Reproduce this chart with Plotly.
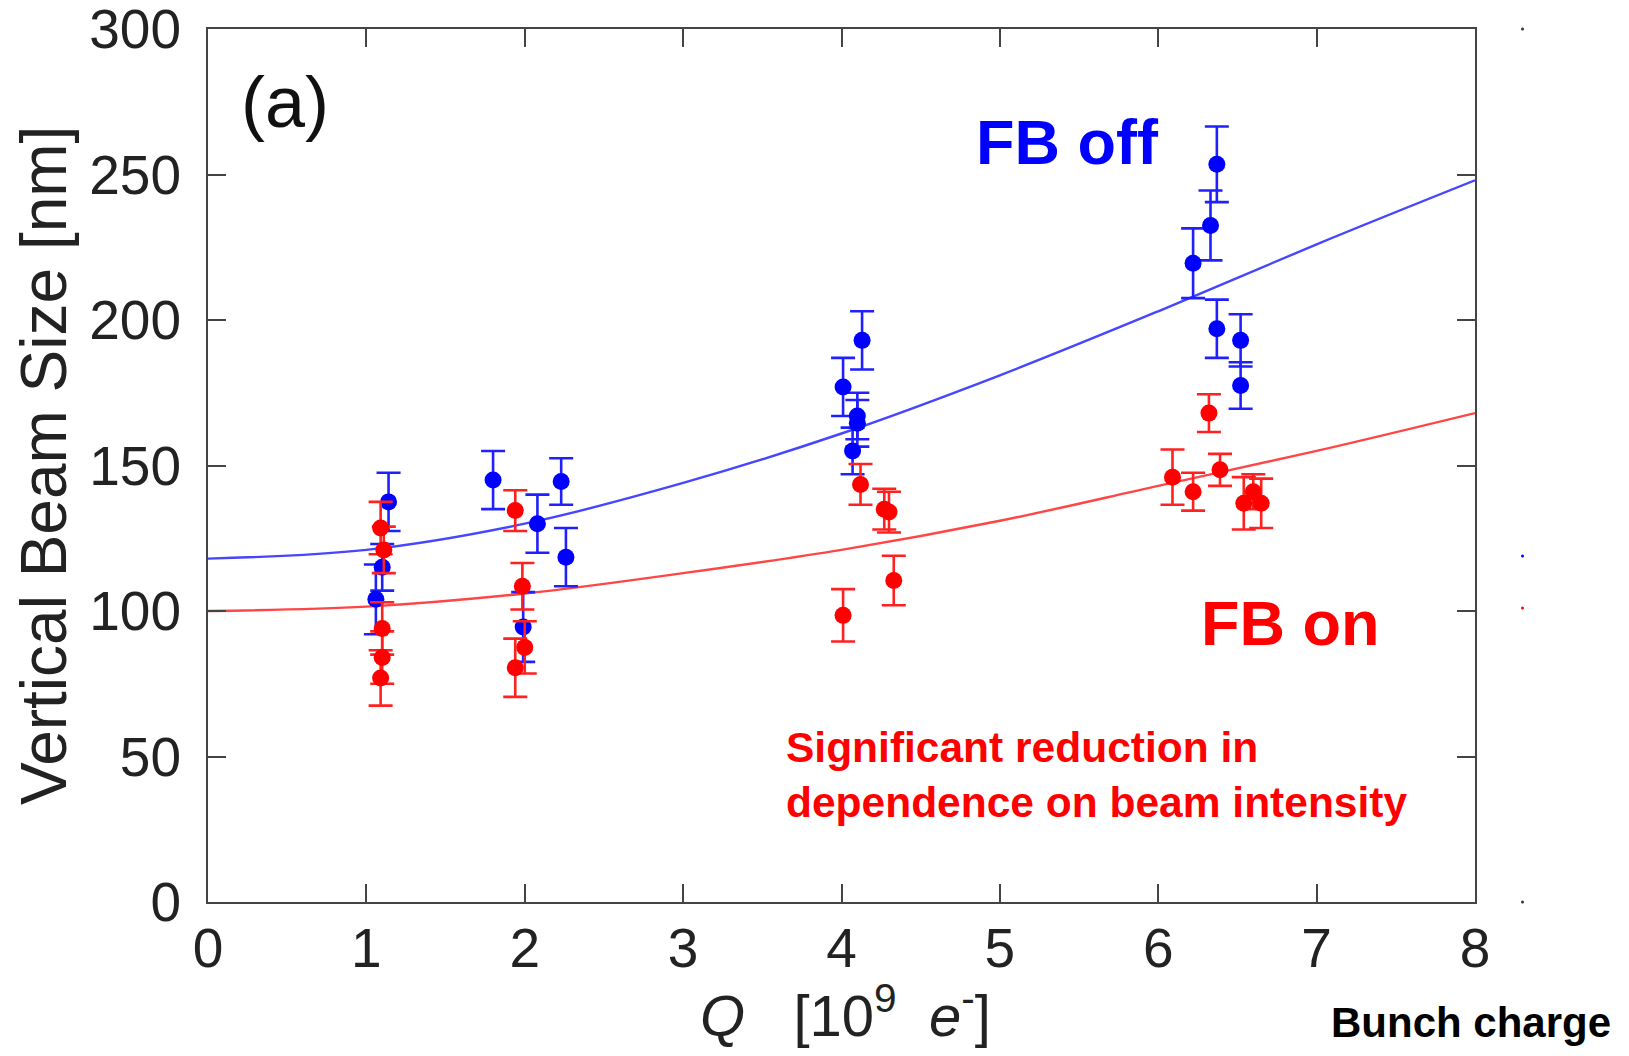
import plotly.graph_objects as go

# FB off (blue) measurements
off_q = [1.14, 1.10, 1.06, 1.99, 1.80, 2.08, 2.23, 2.26, 4.01, 4.13, 4.10, 4.10, 4.07,
         6.22, 6.33, 6.37, 6.37, 6.52, 6.52]
off_size = [137.5, 115, 104, 94.5, 145, 130, 144.5, 118.5, 177, 193, 167, 164.5, 155,
            219.5, 232.5, 253.5, 197, 193, 177.5]
off_err = [10, 8, 12, 12, 10, 10, 8, 10, 10, 10, 8, 8, 8, 12, 12, 13, 10, 9, 8]

# FB on (red) measurements
on_q = [1.09, 1.11, 1.10, 1.10, 1.09, 1.94, 1.985, 2.00, 1.94, 4.12, 4.27, 4.30, 4.33, 4.01,
        6.09, 6.22, 6.32, 6.39, 6.54, 6.60, 6.65]
on_size = [128.5, 121, 94, 84, 77, 134.5, 108.5, 87.5, 80.5, 143.5, 135, 134, 110.5, 98.5,
           146, 141, 168, 148.5, 137, 141, 137]
on_err = [9, 8, 9, 9, 9.5, 7, 8, 9, 10, 7, 7, 7, 8.5, 9, 9.5, 6.5, 6.5, 5.5, 9, 6, 8.5]

# fit curves
fit_q = [0, 1, 2, 3, 4, 5, 6, 7, 8]
fit_off = [118, 121, 130, 144, 161, 181, 203, 226, 248]
fit_on = [100, 101.5, 106, 113, 121, 131, 143, 155, 168]

xticks = [0, 1, 2, 3, 4, 5, 6, 7, 8]
yticks = [0, 50, 100, 150, 200, 250, 300]

FONT = "Liberation Sans, Arial, sans-serif"
BLUE = "#0000ff"
RED = "#ff0000"

fig = go.Figure()
fig.add_trace(go.Scatter(x=fit_q, y=fit_off, mode="lines", line=dict(color="#4646ff", width=2.4, shape="spline"), hoverinfo="skip"))
fig.add_trace(go.Scatter(x=fit_q, y=fit_on, mode="lines", line=dict(color="#ff4646", width=2.4, shape="spline"), hoverinfo="skip"))
fig.add_trace(go.Scatter(x=off_q, y=off_size, mode="markers",
                         marker=dict(color=BLUE, size=17),
                         error_y=dict(type="data", array=off_err, color="#2020ff", thickness=2.6, width=12)))
fig.add_trace(go.Scatter(x=on_q, y=on_size, mode="markers",
                         marker=dict(color=RED, size=17),
                         error_y=dict(type="data", array=on_err, color="#ff2020", thickness=2.6, width=12)))

axis_common = dict(showgrid=False, zeroline=False, showline=True, linecolor="#444", linewidth=2,
                   mirror="ticks", ticks="inside", ticklen=18, tickwidth=2, tickcolor="#444",
                   automargin=False, ticklabeloverflow="allow",
                   tickfont=dict(family=FONT, size=55, color="#222"))
fig.update_xaxes(range=[0, 8], tickvals=xticks, ticklabelstandoff=-3, **axis_common)
fig.update_yaxes(range=[0, 300], tickvals=yticks, ticklabelstandoff=14, **axis_common)

anns = [
    dict(x=(285 - 208) / 1267, y=(902 - 102) / 873, text="(a)", font=dict(size=72, color="#111")),
    dict(x=0.678, y=0.870, text="<b>FB off</b>", font=dict(size=63, color=BLUE)),
    dict(x=0.854, y=0.3196, text="<b>FB on</b>", font=dict(size=63, color=RED)),
]
for a in anns:
    fig.add_annotation(xref="paper", yref="paper", showarrow=False, xanchor="center", yanchor="middle",
                       x=a["x"], y=a["y"], text=a["text"], font=dict(family=FONT, **a["font"]))

fig.add_annotation(xref="paper", yref="paper", x=0.4545, y=0.146, xanchor="left", yanchor="middle",
                   align="left", showarrow=False,
                   text="<b>Significant reduction in<br>dependence on beam intensity</b>",
                   font=dict(family=FONT, size=42.5, color=RED))
fig.add_annotation(xref="paper", yref="paper", x=(44 - 208) / 1267, y=(902 - 466) / 873,
                   xanchor="center", yanchor="middle", showarrow=False, textangle=-90,
                   text="Vertical Beam Size [nm]", font=dict(family=FONT, size=64, color="#222"))
fig.add_annotation(xref="paper", yref="paper", x=(845 - 208) / 1267, y=(902 - 1050) / 873,
                   xanchor="center", yanchor="bottom", showarrow=False,
                   text="<i>Q</i>&nbsp;&nbsp;&nbsp;[10<sup>9</sup>&nbsp;&nbsp;<i>e</i><sup>-</sup>]",
                   font=dict(family=FONT, size=58, color="#222"))
fig.add_annotation(xref="paper", yref="paper", x=(1613 - 208) / 1267, y=(902 - 1048) / 873,
                   xanchor="right", yanchor="bottom", showarrow=False,
                   text="<b>Bunch charge</b>", font=dict(family=FONT, size=42, color="#000"))

# stray legend dots on the right
for yy, c in [(29, "#333"), (556, BLUE), (608, RED), (902, "#333")]:
    fig.add_shape(type="circle", xref="paper", yref="paper",
                  x0=(1521 - 208) / 1267, x1=(1524 - 208) / 1267,
                  y0=(902 - yy - 1.5) / 873, y1=(902 - yy + 1.5) / 873,
                  line=dict(width=0), fillcolor=c)

# page body has an 8px margin, so the figure is 8px smaller on each side
fig.update_layout(width=1613, height=1040, margin=dict(l=200, r=146, t=21, b=146, autoexpand=False),
                  plot_bgcolor="white", paper_bgcolor="white", showlegend=False)

fig.write_html("out.html")
